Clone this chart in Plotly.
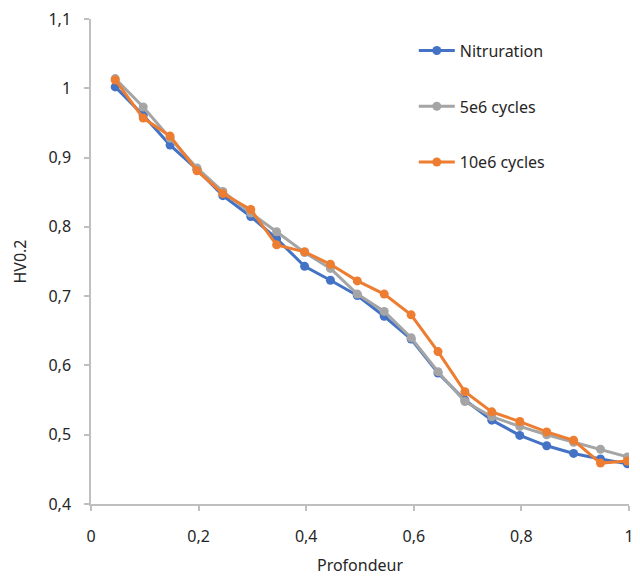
import plotly.graph_objects as go

# Depth positions (Profondeur) and HV0.2 hardness profiles
profondeur = [0.045, 0.097, 0.147, 0.197, 0.245, 0.297, 0.345, 0.397, 0.445, 0.495,
              0.545, 0.595, 0.645, 0.695, 0.745, 0.797, 0.847, 0.897, 0.947, 0.997]

nitruration = [1.002, 0.961, 0.918, 0.883, 0.845, 0.815, 0.783, 0.743, 0.723, 0.701,
               0.671, 0.638, 0.589, 0.550, 0.521, 0.499, 0.484, 0.473, 0.465, 0.458]

cycles_5e6 = [1.014, 0.973, 0.928, 0.885, 0.851, 0.820, 0.793, 0.763, 0.740, 0.703,
              0.678, 0.640, 0.591, 0.548, 0.526, 0.512, 0.500, 0.489, 0.479, 0.468]

cycles_10e6 = [1.012, 0.957, 0.931, 0.881, 0.848, 0.825, 0.774, 0.764, 0.746, 0.722,
               0.703, 0.673, 0.620, 0.562, 0.533, 0.519, 0.504, 0.492, 0.459, 0.462]

series = [
    ("Nitruration", nitruration, "#4472C4"),
    ("5e6 cycles", cycles_5e6, "#A5A5A5"),
    ("10e6 cycles", cycles_10e6, "#ED7D31"),
]

fig = go.Figure()
for name, values, color in series:
    fig.add_trace(go.Scatter(
        x=profondeur, y=values, name=name, legendgroup=name,
        mode="lines+markers",
        line=dict(color=color, width=3),
        marker=dict(color=color, size=9),
    ))

axis_color = "#BFBFBF"
text_color = "#262626"
font_family = "Noto Sans, Open Sans, sans-serif"

fig.update_layout(
    width=640, height=578,
    margin=dict(l=91, r=6, t=19, b=74),
    paper_bgcolor="white", plot_bgcolor="white",
    separators=", ",
    font=dict(family=font_family, size=16, color=text_color),
    legend=dict(
        x=0.6, y=0.97, xanchor="left", yanchor="top",
        traceorder="grouped", tracegroupgap=32,
        bgcolor="rgba(0,0,0,0)",
        font=dict(size=16, color=text_color),
        itemwidth=36,
    ),
    xaxis=dict(
        range=[0, 1], dtick=0.2, tick0=0,
        showgrid=False, zeroline=False,
        showline=True, linecolor=axis_color, linewidth=1.5,
        ticks="outside", ticklen=5, tickcolor=axis_color, tickwidth=1.5,
        ticklabelstandoff=12,
        tickfont=dict(size=16, color=text_color),
        title=dict(text="Profondeur", font=dict(size=16, color=text_color), standoff=14),
    ),
    yaxis=dict(
        range=[0.4, 1.1], dtick=0.1, tick0=0.4,
        showgrid=False, zeroline=False,
        showline=True, linecolor=axis_color, linewidth=1.5,
        ticks="outside", ticklen=5, tickcolor=axis_color, tickwidth=1.5,
        ticklabelstandoff=10,
        tickfont=dict(size=16, color=text_color),
        title=dict(text="HV0.2", font=dict(size=16, color=text_color), standoff=18),
    ),
)

fig.write_html("out.html")
